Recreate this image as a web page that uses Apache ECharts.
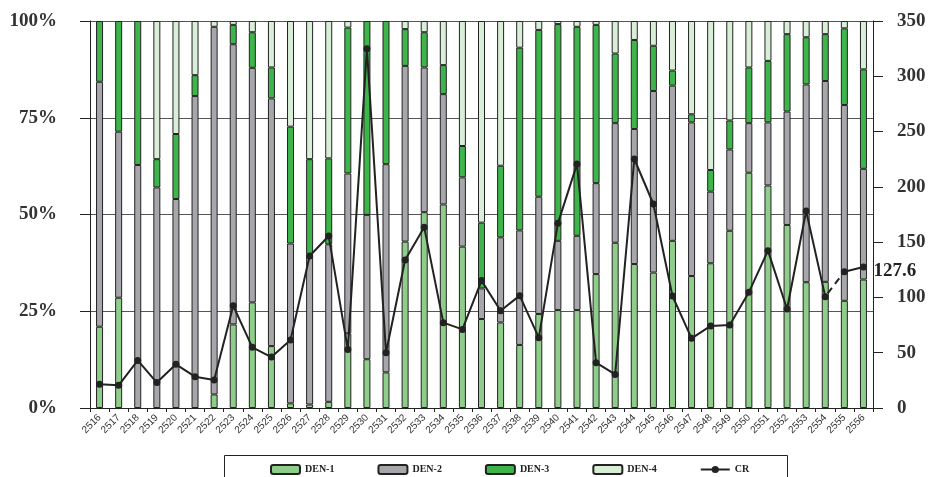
<!DOCTYPE html>
<html>
<head>
<meta charset="utf-8">
<script src="https://cdn.jsdelivr.net/npm/echarts@6/dist/echarts.min.js"></script>
<style>
  html, body { margin: 0; padding: 0; background: #fff; }
  #chart { width: 937px; height: 477px; }
</style>
</head>
<body>
<div id="chart"></div>
<script>
// Years on the category axis
const years = ['2516','2517','2518','2519','2520','2521','2522','2523','2524','2525',
  '2526','2527','2528','2529','2530','2531','2532','2533','2534','2535',
  '2536','2537','2538','2539','2540','2541','2542','2543','2544','2545',
  '2546','2547','2548','2549','2550','2551','2552','2553','2554','2555','2556'];

// Serotype shares (%) per year
const den1 = [21.0, 28.5, 0, 0, 0, 0, 3.5, 21.6, 27.3, 16.0, 1.2, 0.9, 1.6, 19.3,
  12.6, 9.2, 43.0, 50.6, 52.6, 41.7, 23.0, 22.1, 16.3, 24.3, 25.3, 25.3, 34.6,
  42.7, 37.2, 35.0, 43.2, 34.1, 37.4, 45.8, 60.8, 57.5, 47.3, 32.5, 32.6, 27.7, 33.2];
const den2 = [63.3, 42.9, 62.8, 57.0, 54.0, 80.6, 95.0, 72.4, 60.6, 64.0, 41.3, 38.8,
  40.7, 41.3, 37.3, 53.8, 45.4, 37.4, 28.5, 17.9, 7.9, 22.0, 29.6, 30.3, 17.9, 19.2,
  23.5, 30.9, 34.9, 46.9, 40.1, 39.7, 18.5, 21.0, 12.8, 16.3, 29.3, 51.1, 51.9, 50.6, 28.6];
const den3 = [15.7, 28.6, 37.2, 7.3, 16.8, 5.4, 0, 5.0, 9.2, 8.0, 30.2, 24.6, 22.2,
  37.7, 50.1, 37.0, 9.5, 9.1, 7.5, 8.1, 17.0, 18.5, 47.2, 43.1, 56.0, 54.0, 40.9,
  18.0, 23.0, 11.7, 3.9, 2.1, 5.6, 7.5, 14.4, 15.9, 20.0, 12.2, 12.1, 19.8, 25.7];
const den4 = [0, 0, 0, 35.7, 29.2, 14.0, 1.5, 1.0, 2.9, 12.0, 27.3, 35.7, 35.5, 1.7,
  0, 0, 2.1, 2.9, 11.4, 32.3, 52.1, 37.4, 6.9, 2.3, 0.8, 1.5, 1.0, 8.4, 4.9, 6.4,
  12.8, 24.1, 38.5, 25.7, 12.0, 10.3, 3.4, 4.2, 3.4, 1.9, 12.5];

// Case rate (right axis)
const cr = [21.4, 20.5, 43, 23, 39.5, 28.3, 25.3, 92.5, 54.9, 46.1, 61.5, 137.5,
  155.5, 53, 325, 50, 133.8, 163.4, 77.2, 71.1, 115.2, 88, 101.6, 63.6, 167, 220.6,
  41, 30.4, 225.2, 184.5, 101.3, 63, 74.2, 75.1, 104.6, 142.3, 89.5, 178.2, 100.7,
  123.3, 127.6];

// Axis tick values
const pctTicks = [0, 25, 50, 75, 100];
const crTicks = [0, 50, 100, 150, 200, 250, 300, 350];

const serif = 'Liberation Serif';
const dark = '#222';
const lastIdx = cr.length - 1;
const prevIdx = lastIdx - 1;

// zero shares are left out so no empty outlines are drawn
const nz = arr => arr.map(v => (v === 0 ? '-' : v));

// solid line up to the second-to-last gap, dashed bridge, then solid tail
const crMain = cr.map((v, i) => (i < prevIdx ? v : '-'));
const crTail = cr.map((v, i) => (i >= prevIdx ? v : '-'));
const crBridge = cr.map((v, i) => (i === prevIdx - 1 || i === prevIdx ? v : '-'));

function barSeries(name, data, color) {
  return {
    name, type: 'bar', stack: 'den', data: nz(data), barWidth: 7,
    itemStyle: { color, borderColor: dark, borderWidth: 1 },
    yAxisIndex: 0
  };
}

const lineCommon = {
  type: 'line', yAxisIndex: 1, symbol: 'circle', symbolSize: 7,
  itemStyle: { color: dark }, lineStyle: { color: dark, width: 2 },
  z: 5, animation: false
};

const chart = echarts.init(document.getElementById('chart'), null, { renderer: 'canvas' });

chart.setOption({
  animation: false,
  backgroundColor: '#fff',
  grid: { left: 90, right: 64, top: 21, bottom: 69 },
  legend: {
    data: ['DEN-1', 'DEN-2', 'DEN-3', 'DEN-4', 'CR'],
    left: 270, top: 464, padding: 0,
    itemWidth: 29, itemHeight: 9, itemGap: 43,
    textStyle: { fontFamily: serif, fontWeight: 'bold', fontSize: 10, color: dark },
    selectedMode: false
  },
  graphic: [{
    type: 'rect', shape: { x: 224.5, y: 455.5, width: 563, height: 40 },
    style: { fill: 'none', stroke: dark, lineWidth: 1 }, silent: true
  }],
  xAxis: {
    type: 'category', data: years, boundaryGap: true,
    axisLine: { lineStyle: { color: dark, width: 1 } },
    axisTick: { show: true, length: 4, lineStyle: { color: dark } },
    axisLabel: { rotate: 45, fontSize: 10, fontFamily: 'Liberation Sans', color: '#333', margin: 8, interval: 0 }
  },
  yAxis: [{
    type: 'value', min: pctTicks[0], max: pctTicks[pctTicks.length - 1], interval: 25,
    axisLine: { show: true, lineStyle: { color: dark } },
    axisTick: { show: true, length: 10, lineStyle: { color: dark } },
    axisLabel: { formatter: '{value}%', fontFamily: serif, fontWeight: 'bold', fontSize: 19, color: '#333', margin: 33 },
    splitLine: { show: true, lineStyle: { color: '#555', width: 1.2 } }
  }, {
    type: 'value', min: crTicks[0], max: crTicks[crTicks.length - 1], interval: 50,
    position: 'right',
    axisLine: { show: true, lineStyle: { color: dark } },
    axisTick: { show: true, length: 10, lineStyle: { color: dark } },
    axisLabel: { fontFamily: serif, fontWeight: 'bold', fontSize: 19, color: '#333', margin: 24 },
    splitLine: { show: false }
  }],
  series: [
    barSeries('DEN-1', den1, '#8fcd8b'),
    barSeries('DEN-2', den2, '#a7a7ab'),
    barSeries('DEN-3', den3, '#3db54a'),
    barSeries('DEN-4', den4, '#d9eed7'),
    Object.assign({}, lineCommon, { name: 'CR', data: crMain }),
    Object.assign({}, lineCommon, {
      name: 'CR', data: crBridge, showSymbol: false, symbol: 'none',
      lineStyle: { color: dark, width: 2, type: [7, 5], dashOffset: -4 }
    }),
    Object.assign({}, lineCommon, {
      name: 'CR', data: crTail,
      endLabel: {
        show: true, distance: 10, offset: [0, 4],
        formatter: p => String(p.value),
        fontFamily: serif, fontWeight: 'bold', fontSize: 19, color: dark
      }
    })
  ]
});
</script>
</body>
</html>
